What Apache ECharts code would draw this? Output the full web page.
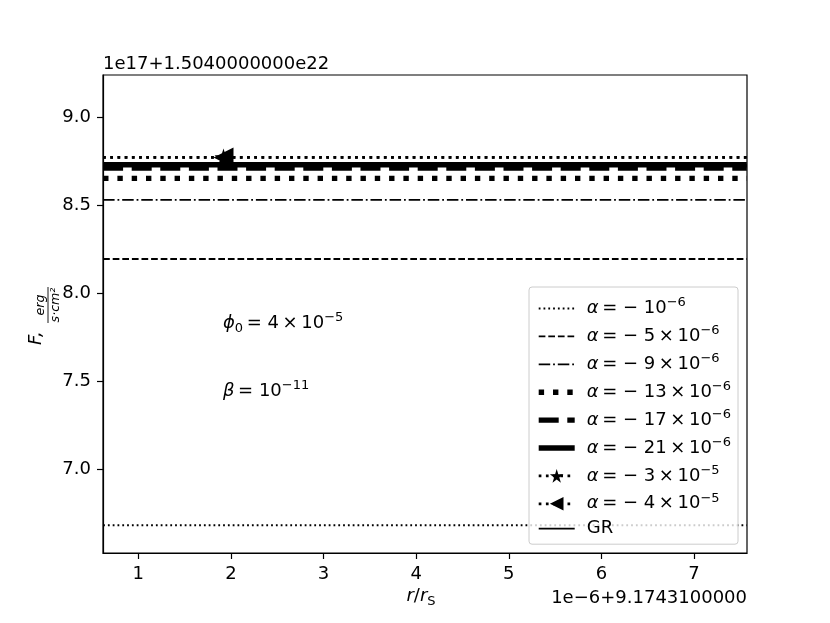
<!DOCTYPE html>
<html><head><meta charset="utf-8">
<script src="https://cdn.jsdelivr.net/npm/echarts@6/dist/echarts.min.js"></script>
<style>html,body{margin:0;padding:0;background:#fff}#c{width:830px;height:623px}</style>
</head><body><div id="c"></div>
<script>
// ---- data ----
const xPoints = [0.62, 1.92, 7.57];         // r/rS offset values (x1e-6); middle point carries the marker
const xTicks = [1, 2, 3, 4, 5, 6, 7];
const yTicks = [7.0, 7.5, 8.0, 8.5, 9.0];
const fAlpha1  = [6.680, 6.680, 6.680];
const fAlpha5  = [8.195, 8.195, 8.195];
const fAlpha9  = [8.531, 8.531, 8.531];
const fAlpha13 = [8.654, 8.654, 8.654];
const fAlpha17 = [8.713, 8.713, 8.713];
const fAlpha21 = [8.731, 8.731, 8.731];
const fAlpha30 = [8.773, 8.773, 8.773];
const fAlpha40 = [8.773, 8.773, 8.773];
const fGR      = [8.731, 8.731, 8.731];
const markerIndex = 1;

const FONT = 'DejaVu Sans';
const seriesNames = ['a1','a5','a9','a13','a17','a21','a30','a40','GR'];
const TS = '\u2009';
const legendLabels = {
  a1:  '{it|α}{n|' + TS + '= − 10}{sup|−6}',
  a5:  '{it|α}{n|' + TS + '= − 5' + TS + '×' + TS + '10}{sup|−6}',
  a9:  '{it|α}{n|' + TS + '= − 9' + TS + '×' + TS + '10}{sup|−6}',
  a13: '{it|α}{n|' + TS + '= − 13' + TS + '×' + TS + '10}{sup|−6}',
  a17: '{it|α}{n|' + TS + '= − 17' + TS + '×' + TS + '10}{sup|−6}',
  a21: '{it|α}{n|' + TS + '= − 21' + TS + '×' + TS + '10}{sup|−6}',
  a30: '{it|α}{n|' + TS + '= − 3' + TS + '×' + TS + '10}{sup|−5}',
  a40: '{it|α}{n|' + TS + '= − 4' + TS + '×' + TS + '10}{sup|−5}',
  GR:  '{n|GR}'
};
const rich = {
  it: {fontFamily: FONT, fontSize: 18, fontStyle: 'italic', lineHeight: 24, color: '#000'},
  n: {fontFamily: FONT, fontSize: 18, lineHeight: 24, color: '#000'},
  sup: {fontFamily: FONT, fontSize: 13, lineHeight: 13, verticalAlign: 'top', color: '#000'},
  sub: {fontFamily: FONT, fontSize: 13, lineHeight: 13, verticalAlign: 'bottom', color: '#000'},
  gap: {width: 7}
};
const STAR = 'path://M50,0 L61.2,34.5 L97.6,34.5 L68.2,55.9 L79.4,90.5 L50,69.1 L20.6,90.5 L31.8,55.9 L2.4,34.5 L38.8,34.5 Z';

const styles = {
  a1:  {w: 1.8, t: [1.8, 3.0]},
  a5:  {w: 1.8, t: [6.7, 2.9]},
  a9:  {w: 1.8, t: [11.5, 2.9, 1.8, 2.9]},
  a13: {w: 5.4, t: [5.4, 8.9]},
  a17: {w: 5.4, t: [20, 8.6]},
  a21: {w: 5.4, t: 'solid'},
  a30: {w: 2.7, t: [2.7, 4.5]},
  a40: {w: 2.7, t: [2.7, 4.5]},
  GR:  {w: 1.8, t: 'solid'}
};

function pts(vals, withMarker) {
  return xPoints.map((x, i) => {
    if (withMarker && i !== markerIndex) return {value: [x, vals[i]], symbol: 'none'};
    return {value: [x, vals[i]]};
  });
}
function line(name, vals, marker) {
  const st = styles[name];
  const s = {
    name: name, type: 'line', data: pts(vals, !!marker),
    lineStyle: {color: '#000', width: st.w, type: st.t, cap: 'butt'},
    itemStyle: {color: '#000'},
    symbol: 'none', silent: true, animation: false, clip: true
  };
  if (marker) {
    s.symbol = marker.symbol; s.symbolSize = marker.size; s.symbolRotate = marker.rotate || 0;
    s.showSymbol = true;
  }
  return s;
}

const series = [
  line('a1',  fAlpha1),
  line('a5',  fAlpha5),
  line('a9',  fAlpha9),
  line('a13', fAlpha13),
  line('a17', fAlpha17),
  line('a21', fAlpha21),
  line('a30', fAlpha30, {symbol: STAR, size: 18}),
  line('a40', fAlpha40, {symbol: 'triangle', size: 20, rotate: 90}),
  line('GR',  fGR)
];

const chart = echarts.init(document.getElementById('c'), null, {renderer: 'canvas'});
chart.setOption({
  backgroundColor: '#fff',
  animation: false,
  grid: {left: 103, right: 83, top: 75, bottom: 70, show: true, borderColor: '#000', borderWidth: 1.2, containLabel: false},
  xAxis: {
    type: 'value', min: 0.619, max: 7.572,
    axisLine: {show: true, onZero: false, lineStyle: {color: '#000', width: 1.2}},
    axisTick: {show: true, inside: false, length: 6, lineStyle: {color: '#000', width: 1.2}, customValues: xTicks},
    axisLabel: {show: true, margin: 12, color: '#000', fontFamily: FONT, fontSize: 18, customValues: xTicks, formatter: v => String(v)},
    splitLine: {show: false}
  },
  yAxis: {
    type: 'value', min: 6.522, max: 9.242,
    axisLine: {show: true, onZero: false, lineStyle: {color: '#000', width: 1.2}},
    axisTick: {show: true, inside: false, length: 6, lineStyle: {color: '#000', width: 1.2}, customValues: yTicks},
    axisLabel: {show: true, margin: 12, color: '#000', fontFamily: FONT, fontSize: 18, customValues: yTicks, formatter: v => v.toFixed(1)},
    splitLine: {show: false}
  },
  legend: {
    show: true, orient: 'vertical', left: 529, top: 287,
    padding: [9.5, 7, 6.5, 7], itemWidth: 36, itemHeight: 17, itemGap: 6.9,
    backgroundColor: 'rgba(255,255,255,0.8)', borderColor: '#cccccc', borderWidth: 1, borderRadius: 3,
    selectedMode: false, inactiveColor: '#000',
    data: seriesNames.map(n => ({
      name: n,
      itemStyle: (n === 'a30' || n === 'a40') ? {opacity: 1, color: '#000'} : {opacity: 0},
      lineStyle: {width: styles[n].w, type: styles[n].t, color: '#000', cap: 'butt'}
    })),
    formatter: n => '{gap|}' + legendLabels[n],
    textStyle: {rich: rich, fontFamily: FONT, fontSize: 18, color: '#000'}
  },
  graphic: [
    {type: 'text', left: 103, top: 55, style: {text: '1e17+1.5040000000e22', fontFamily: FONT, fontSize: 18, fill: '#000'}},
    {type: 'text', right: 830 - 747, top: 589, style: {text: '1e−6+9.1743100000', fontFamily: FONT, fontSize: 18, fill: '#000'}},
    {type: 'text', x: 421, y: 596, style: {text: '{it|r}{n|/}{it|r}{sub|S}', rich: rich, textAlign: 'center', textVerticalAlign: 'middle', align: 'center', verticalAlign: 'middle'}},
    {type: 'text', x: 223, y: 323, style: {text: '{it|ϕ}{sub|0}{n|' + TS + '= 4' + TS + '×' + TS + '10}{sup|−5}', rich: rich, textAlign: 'left', textVerticalAlign: 'middle', align: 'left', verticalAlign: 'middle'}},
    {type: 'text', x: 223, y: 391, style: {text: '{it|β}{n|' + TS + '= 10}{sup|−11}', rich: rich, textAlign: 'left', textVerticalAlign: 'middle', align: 'left', verticalAlign: 'middle'}},
    {type: 'group', x: 45, y: 314, rotation: Math.PI / 2, children: [
      {type: 'text', x: -31, y: -9, style: {text: 'F,', fontFamily: FONT, fontSize: 18, fontStyle: 'italic', fill: '#000', textAlign: 'left', textVerticalAlign: 'middle', align: 'left', verticalAlign: 'middle'}},
      {type: 'text', x: 9, y: -4, style: {text: 'erg', fontFamily: FONT, fontSize: 12.6, fontStyle: 'italic', fill: '#000', textAlign: 'center', textVerticalAlign: 'middle', align: 'center', verticalAlign: 'middle'}},
      {type: 'line', shape: {x1: -9, y1: 3, x2: 27, y2: 3}, style: {stroke: '#000', lineWidth: 0.9}},
      {type: 'text', x: 9, y: 11, style: {text: 's·cm²', fontFamily: FONT, fontSize: 12.6, fontStyle: 'italic', fill: '#000', textAlign: 'center', textVerticalAlign: 'middle', align: 'center', verticalAlign: 'middle'}}
    ]}
  ],
  series: series
});
</script></body></html>
